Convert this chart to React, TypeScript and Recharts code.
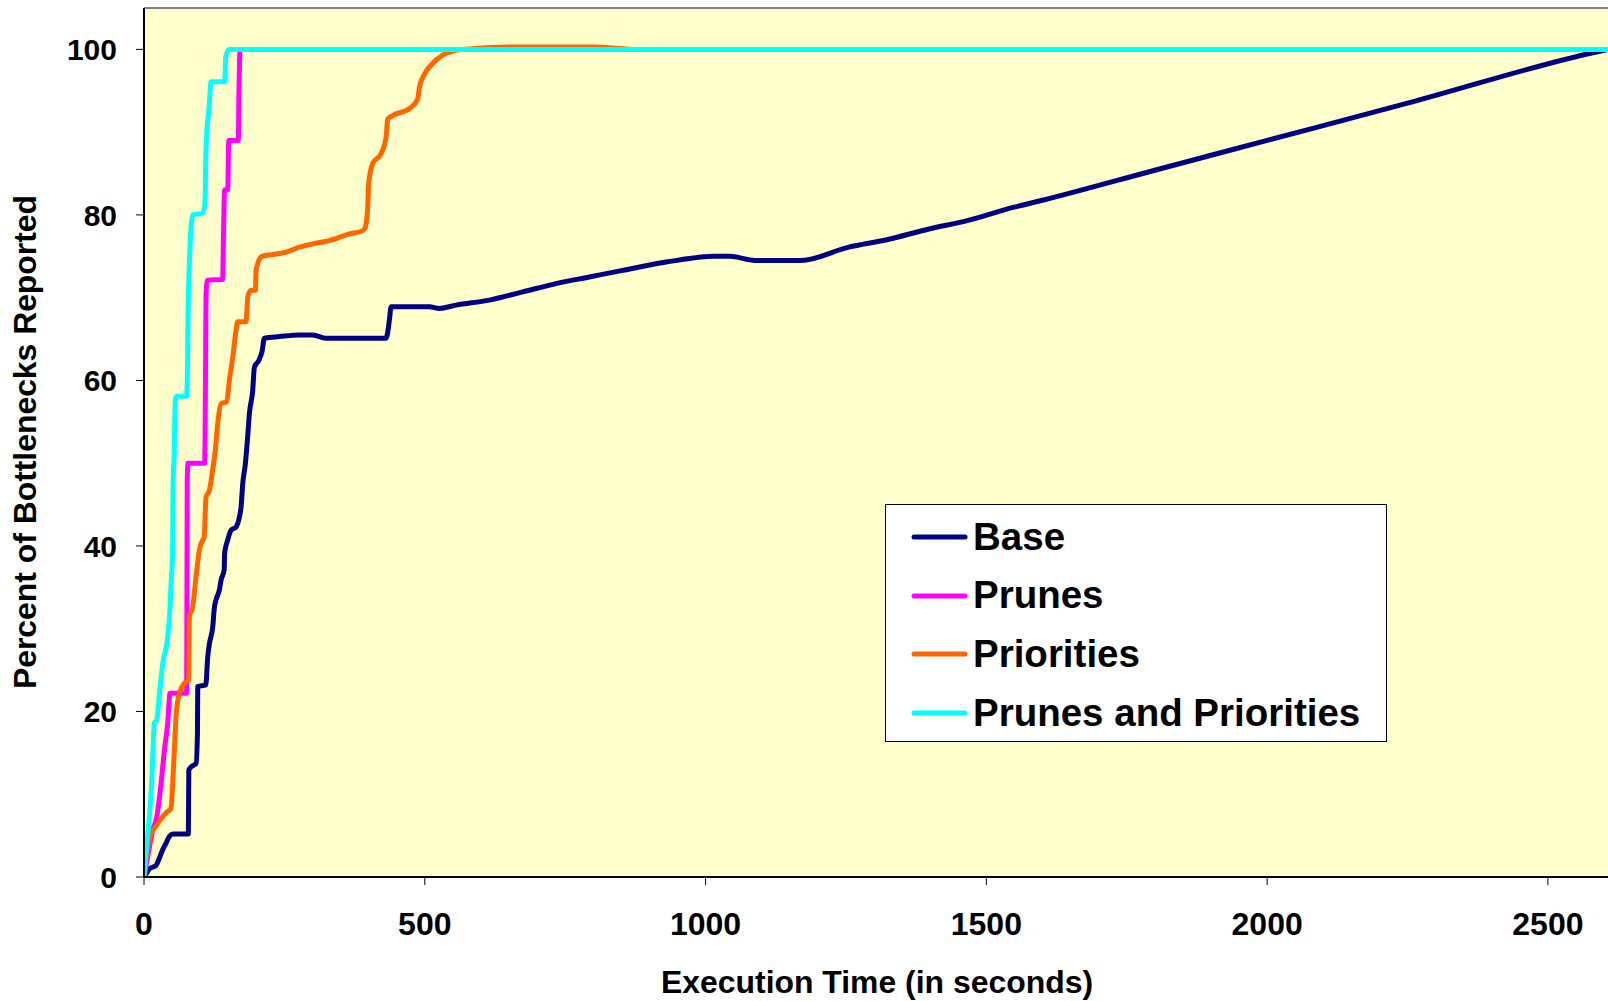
import React from 'react';
import { LineChart, Line, XAxis, YAxis, CartesianGrid, ReferenceLine, Legend, Label } from 'recharts';

// ---- data (time in seconds, percent of bottlenecks reported) ----
const baseSeries: [number, number][] = [
  [0, 0], [5, 0.5], [9.6, 1.0], [21.5, 1.4], [27.4, 2.3], [33.3, 3.3], [39.3, 4.1], [45.2, 4.9], [51.1, 5.2],
  [79, 5.2], [79.8, 12.9], [83.8, 13.3], [92.7, 13.7], [95.2, 17.4], [95.7, 23], [110, 23.2], [113.5, 26.6],
  [116.5, 28.2], [122.4, 30.2], [125.4, 32.6], [128.4, 33.5], [134.3, 34.7], [137.3, 35.9], [142.8, 37.1],
  [143.5, 39.1], [149, 40.7], [155, 41.9], [164, 42.3], [169.9, 43.5], [172.9, 44.7], [175.8, 47.5],
  [180.6, 50], [184.6, 53.2], [187.7, 56], [193.6, 58.8], [196.6, 61.6], [204.3, 62.4], [210.2, 63.5],
  [214.4, 65.1], [241.1, 65.3], [276.7, 65.5], [300.4, 65.5], [324.2, 65.1], [431.1, 65.1], [437, 67.3],
  [440, 68.9], [508.2, 68.9], [526, 68.7], [555.7, 69.1], [615, 69.7], [674.4, 70.7], [733.7, 71.7],
  [793, 72.5], [852.4, 73.3], [930, 74.3], [1016, 75], [1043, 75], [1088, 74.5], [1169.5, 74.5],
  [1254.8, 76.1], [1322.8, 77], [1397.8, 78.3], [1466, 79.3], [1547.7, 80.9], [1602, 81.8], [1800, 85.4],
  [2000, 89], [2250, 93.5], [2580, 99.6], [2607, 100],
];

const prunesSeries: [number, number][] = [
  [0, 0], [8, 3], [15.5, 5.7], [22, 7], [30.4, 11.3], [36.3, 15.3], [42.2, 18.6], [46.4, 22.2], [76, 22.2],
  [76.5, 35], [77, 48], [78.5, 50], [108, 50], [109.5, 60], [110.5, 70.5], [113, 72.1], [140, 72.2],
  [141.5, 77.3], [143.5, 83], [149, 83], [151, 89], [168, 89], [169, 94.2], [171, 99.9], [178, 100], [2607, 100],
];

const prioritiesSeries: [number, number][] = [
  [0, 0], [4, 2.5], [8, 4], [12.6, 5.3], [20, 6], [30, 7], [40, 7.8], [48.2, 8.3], [51.1, 11.3], [54.1, 15.3],
  [57.1, 19.4], [63, 22.2], [71.9, 23.4], [79.6, 23.8], [80.8, 31.4], [86.7, 32.6], [92.7, 36.3], [98.6, 39.5],
  [104.5, 40.7], [107, 41], [110.5, 45.9], [116.4, 46.7], [122.3, 49.2], [127.1, 51.6], [131.3, 54.8],
  [137.2, 57.2], [147.3, 57.4], [152, 60], [158, 62.8], [164, 66.1], [166.9, 67.1], [181.8, 67.1],
  [184.8, 70.1], [190.7, 70.9], [198.4, 70.9], [199.6, 73.3], [202.5, 74.1], [210.2, 75.0], [229, 75.2],
  [253, 75.5], [276.7, 76.1], [300.4, 76.5], [330, 76.9], [365.7, 77.7], [389.5, 78.1], [394.2, 78.5],
  [398.4, 81], [400.2, 83.8], [407.3, 86.2], [422.2, 87.4], [431.1, 89.4], [434.1, 91.6], [443, 92],
  [475.6, 93], [487.5, 94], [490.4, 95.4], [499.3, 97], [511.2, 98.1], [531.9, 99.3], [567.5, 100],
  [650, 100.3], [800, 100.3], [880, 100], [2607, 100],
];

const bothSeries: [number, number][] = [
  [0, 0], [5, 4], [9.6, 7.3], [14, 12], [18.5, 18.6], [22.7, 19.0], [28, 22.5], [33.4, 25.8], [42.3, 29],
  [46, 32], [48.2, 35.5], [51, 39.5], [51.8, 47.5], [54, 51.6], [55.5, 57.2], [58, 58.1], [76, 58.1],
  [77.5, 62], [78.5, 68], [80.8, 74.1], [86.8, 80], [104.6, 80.2], [108.5, 81.4], [110.5, 88.2],
  [116.4, 93.4], [119.4, 96.1], [144, 96.1], [145.5, 99.1], [152, 100], [2607, 100],
];

const seriesNames = ['Base', 'Prunes', 'Priorities', 'Prunes and Priorities'];
const seriesColors = ['#000080', '#FF00FF', '#FF6600', '#00FFFF'];
const allSeries = [baseSeries, prunesSeries, prioritiesSeries, bothSeries];

const xTicks = [0, 500, 1000, 1500, 2000, 2500];
const yTicks = [0, 20, 40, 60, 80, 100];
const xTitle = 'Execution Time (in seconds)';
const yTitle = 'Percent of Bottlenecks Reported';

const FONT = 'Arial, "Liberation Sans", Helvetica, sans-serif';

const toData = (s: [number, number][]) => s.map(([t, v]) => ({ t, v }));

const renderLegend = () => (
  <div
    style={{
      width: 502,
      height: 238,
      boxSizing: 'border-box',
      border: '1.5px solid #000',
      background: '#FFFFFF',
      position: 'relative',
      fontFamily: FONT,
      fontWeight: 700,
      fontSize: 38.5,
      color: '#000',
    }}
  >
    {seriesNames.map((name, i) => (
      <div
        key={name}
        style={{
          position: 'absolute',
          left: 0,
          top: 32 + i * 58.7 - 25,
          height: 50,
          display: 'flex',
          alignItems: 'center',
          whiteSpace: 'nowrap',
        }}
      >
        <svg width={87} height={50} style={{ display: 'block' }}>
          <line x1={28} x2={79} y1={25} y2={25} stroke={seriesColors[i]} strokeWidth={5} strokeLinecap="round" />
        </svg>
        <span style={{ lineHeight: 1 }}>{name}</span>
      </div>
    ))}
  </div>
);

export default function App() {
  return (
    <div style={{ position: 'absolute', left: 0, top: 0, width: 1608, height: 1001, background: '#fff' }}>
      <LineChart width={1608} height={1001} margin={{ top: 8, right: 0, bottom: 0, left: 0 }}>
        <CartesianGrid horizontal={false} vertical={false} fill="#FFFFCC" />
        <XAxis
          type="number"
          dataKey="t"
          domain={[0, 2607]}
          ticks={xTicks}
          allowDataOverflow
          height={124}
          tickSize={8}
          tickMargin={27}
          axisLine={{ stroke: '#000', strokeWidth: 2 }}
          tickLine={{ stroke: '#000', strokeWidth: 1 }}
          tick={{ fill: '#000', fontSize: 32, fontWeight: 700, fontFamily: FONT }}
        >
          <Label
            content={() => (
              <text
                x={877}
                y={993}
                textAnchor="middle"
                fontFamily={FONT}
                fontWeight={700}
                fontSize={32}
                fill="#000"
                textLength={432}
                lengthAdjust="spacingAndGlyphs"
              >
                {xTitle}
              </text>
            )}
          />
        </XAxis>
        <YAxis
          type="number"
          domain={[0, 105]}
          ticks={yTicks}
          allowDataOverflow
          width={144}
          tickSize={8}
          tickMargin={19}
          axisLine={{ stroke: '#000', strokeWidth: 2 }}
          tickLine={{ stroke: '#000', strokeWidth: 1 }}
          tick={{ fill: '#000', fontSize: 30, fontWeight: 700, fontFamily: FONT }}
        >
          <Label
            content={() => (
              <text
                x={36}
                y={442}
                transform="rotate(-90 36 442)"
                textAnchor="middle"
                fontFamily={FONT}
                fontWeight={700}
                fontSize={31}
                fill="#000"
                textLength={494}
                lengthAdjust="spacingAndGlyphs"
              >
                {yTitle}
              </text>
            )}
          />
        </YAxis>
        <ReferenceLine y={105} stroke="#808080" strokeWidth={2} />
        {allSeries.map((s, i) => (
          <Line
            key={seriesNames[i]}
            name={seriesNames[i]}
            data={toData(s)}
            dataKey="v"
            type="monotone"
            stroke={seriesColors[i]}
            strokeWidth={5}
            strokeLinejoin="round"
            strokeLinecap="round"
            dot={false}
            activeDot={false}
            isAnimationActive={false}
          />
        ))}
        <Legend
          verticalAlign="middle"
          align="center"
          layout="horizontal"
          wrapperStyle={{ left: 885, top: 504, width: 502, height: 238 }}
          content={renderLegend}
        />
      </LineChart>
    </div>
  );
}
